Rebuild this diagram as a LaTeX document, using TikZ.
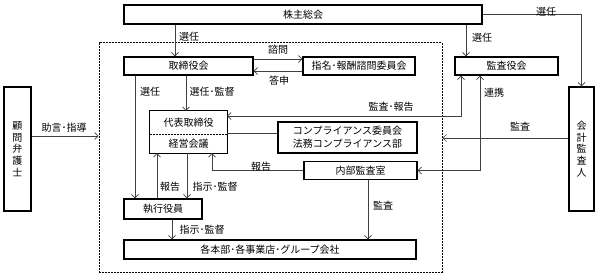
\documentclass[tikz,border=0pt]{standalone}
\usepackage{fontspec}
\setmainfont{Noto Sans CJK JP}
\usetikzlibrary{arrows.meta}
\begin{document}
\begin{tikzpicture}[x=1pt,y=-1pt,
  font=\fontsize{10}{12}\selectfont,
  box/.style={draw=black,line width=1.2pt,rectangle,inner sep=0pt,anchor=center},
  conn/.style={draw=black!75,line width=0.7pt},
  arr/.style={conn,-{Straight Barb[length=3.5pt,width=7pt]}},
  darr/.style={conn,{Straight Barb[length=3.5pt,width=7pt]}-{Straight Barb[length=3.5pt,width=7pt]}},
  lbl/.style={inner sep=0pt,anchor=center},
  vtext/.style={align=center,font=\fontsize{10}{11.7}\selectfont}]
\useasboundingbox (0,0) rectangle (599,275);
% group frame
\node[draw=black,line width=1pt,dash pattern=on 2pt off 1pt,minimum width=343pt,minimum height=229pt,inner sep=0pt] (grp) at (270.5,157.5) {};
% boxes
\node[box,minimum width=358pt,minimum height=19pt] (kabu) at (303,14.5) {株主総会};
\node[box,minimum width=129pt,minimum height=18pt] (tori) at (188.5,66) {取締役会};
\node[box,minimum width=112pt,minimum height=18pt] (shimei) at (359,66) {指名･報酬諮問委員会};
\node[box,minimum width=103pt,minimum height=18pt] (kansa) at (506.5,66) {監査役会};
\node[box,vtext,minimum width=25pt,minimum height=124pt] (kaikei) at (581.5,149) {会\\計\\監\\査\\人};
\node[box,vtext,minimum width=27pt,minimum height=124pt] (komon) at (17.5,149) {顧\\問\\弁\\護\\士};
\node[lbl,minimum width=77pt,minimum height=23pt] (daihyo) at (188.5,122.5) {代表取締役};
\node[lbl,minimum width=77pt,minimum height=19pt] (keiei) at (188.5,143.5) {経営会議};
\draw[line width=1.2pt] (daihyo.north west) rectangle (keiei.south east);
\draw[line width=0.7pt,dash pattern=on 2pt off 1pt] (daihyo.south west) -- (daihyo.south east);
\node[box,align=center,minimum width=139pt,minimum height=31pt,font=\fontsize{10}{13}\selectfont] (comp) at (347.5,137.5) {コンプライアンス委員会\\法務コンプライアンス部};
\node[box,minimum width=113pt,minimum height=18pt] (naibu) at (360.5,170.5) {内部監査室};
\node[box,minimum width=78pt,minimum height=20pt] (shikko) at (163,209) {執行役員};
\node[box,minimum width=292pt,minimum height=19pt] (kakuhon) at (270,249.5) {各本部･各事業店･グループ会社};
% helper coordinates
\coordinate (xA) at (175,0);
\coordinate (xB) at (466,0);
\coordinate (xC) at (135,0);
\coordinate (xD) at (186,0);
\coordinate (xE) at (461,0);
\coordinate (xF) at (480,0);
\coordinate (xG) at (212,0);
\coordinate (xH) at (368,0);
\coordinate (xI) at (157,0);
\coordinate (xJ) at (187,0);
\coordinate (xK) at (172,0);
\coordinate (yA) at (0,59);
\coordinate (yB) at (0,71);
\coordinate (yC) at (0,116);
\coordinate (yD) at (0,133);
\coordinate (yF) at (0,138);
\coordinate (yG) at (0,136);
% connectors
\draw[arr] (kabu.south -| xA) -- (tori.north -| xA);
\draw[arr] (tori.east |- yA) -- (shimei.west |- yA);
\draw[arr] (shimei.west |- yB) -- (tori.east |- yB);
\draw[arr] (kabu.south -| xB) -- (kansa.north -| xB);
\draw[arr] (kabu.east) -| (kaikei.north);
\draw[arr] (tori.south -| xC) -- (shikko.north -| xC);
\draw[arr] (tori.south -| xD) -- (daihyo.north -| xD);
\draw[darr] (kansa.south -| xE) |- (daihyo.east |- yC);
\draw[conn] (daihyo.east |- yD) -- (comp.west |- yD);
\draw[darr] (kansa.south -| xF) |- (naibu.east);
\draw[arr] (kaikei.west |- yF) -- (grp.east |- yF);
\draw[arr] (naibu.west) -| (keiei.south -| xG);
\draw[arr] (naibu.south -| xH) -- (kakuhon.north -| xH);
\draw[arr] (shikko.north -| xI) -- (keiei.south -| xI);
\draw[arr] (keiei.south -| xJ) -- (shikko.north -| xJ);
\draw[arr] (shikko.south -| xK) -- (kakuhon.north -| xK);
\draw[arr] (komon.east |- yG) -- (grp.west |- yG);
% labels
\node[lbl] (l1) at (189,37) {選任};
\node[lbl] (l2) at (278,50) {諮問};
\node[lbl] (l3) at (279,81) {答申};
\node[lbl] (l4) at (482,38) {選任};
\node[lbl] (l5) at (546,12) {選任};
\node[lbl] (l6) at (150,92) {選任};
\node[lbl] (l7) at (212,92) {選任･監督};
\node[lbl] (l8) at (391,107) {監査･報告};
\node[lbl] (l9) at (494,93) {連携};
\node[lbl] (l10) at (520,127) {監査};
\node[lbl] (l11) at (261,167) {報告};
\node[lbl] (l12) at (383,206) {監査};
\node[lbl] (l13) at (170,187) {報告};
\node[lbl] (l14) at (215,187) {指示･監督};
\node[lbl] (l15) at (202,230) {指示･監督};
\node[lbl] (l16) at (64,128) {助言･指導};
\end{tikzpicture}
\end{document}
